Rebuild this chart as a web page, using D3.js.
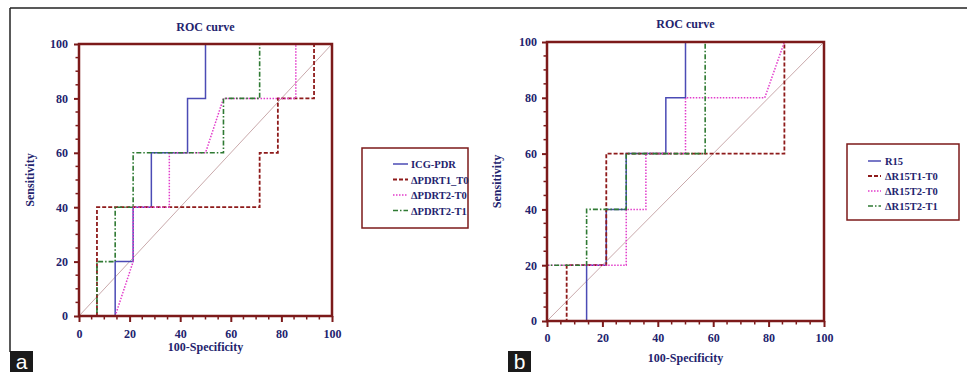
<!DOCTYPE html>
<html>
<head>
<meta charset="utf-8">
<script src="https://cdn.jsdelivr.net/npm/d3@7"></script>
<style>
  body { margin: 0; background: #fff; }
  svg { display: block; font-family: 'Liberation Serif', 'DejaVu Serif', serif; }
  .axis-text { font-size: 12px; font-weight: bold; fill: #23236e; }
  .legend-text { font-size: 10.5px; font-weight: bold; fill: #23236e; }
</style>
</head>
<body>
<div id="chart"></div>
<script>
// x = 100-Specificity, y = Sensitivity
const ticks = [0, 20, 40, 60, 80, 100];

const namesA = ['ICG-PDR', '\u0394PDRT1_T0', '\u0394PDRT2-T0', '\u0394PDRT2-T1'];
const icgX = [0, 14.3, 14.3, 21.4, 21.4, 28.6, 28.6, 42.9, 42.9, 50, 50, 100];
const icgY = [0, 0, 20, 20, 40, 40, 60, 60, 80, 80, 100, 100];
const pdrT1T0X = [0, 7.1, 7.1, 71.4, 71.4, 78.6, 78.6, 92.9, 92.9, 100];
const pdrT1T0Y = [0, 0, 40, 40, 60, 60, 80, 80, 100, 100];
const pdrT2T0X = [0, 14.3, 21.4, 21.4, 35.7, 35.7, 50, 57.1, 85.7, 85.7, 100];
const pdrT2T0Y = [0, 0, 20, 40, 40, 60, 60, 80, 80, 100, 100];
const pdrT2T1X = [0, 7.1, 7.1, 14.3, 14.3, 21.4, 21.4, 57.1, 57.1, 71.4, 71.4, 100];
const pdrT2T1Y = [0, 0, 20, 20, 40, 40, 60, 60, 80, 80, 100, 100];

const namesB = ['R15', '\u0394R15T1-T0', '\u0394R15T2-T0', '\u0394R15T2-T1'];
const r15X = [0, 14.3, 14.3, 21.4, 21.4, 28.6, 28.6, 42.9, 42.9, 50, 50, 100];
const r15Y = [0, 0, 20, 20, 40, 40, 60, 60, 80, 80, 100, 100];
const r15T1T0X = [0, 7.1, 7.1, 21.4, 21.4, 85.7, 85.7, 100];
const r15T1T0Y = [0, 0, 20, 20, 60, 60, 100, 100];
const r15T2T0X = [0, 0, 28.6, 28.6, 35.7, 35.7, 50, 50, 78.6, 85.7, 100];
const r15T2T0Y = [0, 20, 20, 40, 40, 60, 60, 80, 80, 100, 100];
const r15T2T1X = [0, 0, 14.3, 14.3, 28.6, 28.6, 57.1, 57.1, 100];
const r15T2T1Y = [0, 20, 20, 40, 40, 60, 60, 100, 100];

const styles = [
  {color: '#4b4bb5', dash: null, width: 1.5},
  {color: '#8e1b1b', dash: '4,2', width: 1.8},
  {color: '#e23ccb', dash: '1.5,1.5', width: 1.5},
  {color: '#2f7a33', dash: '5,2,1.5,2', width: 1.6}
];

const W = 967, H = 372;
const svg = d3.select('#chart').append('svg')
  .attr('width', W)
  .attr('height', H);

// outer figure frame
svg.append('line').attr('x1', 10).attr('x2', W).attr('y1', 8).attr('y2', 8)
  .attr('stroke', '#222').attr('stroke-width', 1.5);
svg.append('line').attr('x1', 10).attr('x2', 10).attr('y1', 8).attr('y2', 352)
  .attr('stroke', '#222').attr('stroke-width', 1.5);

function panelLabel(x, letter) {
  svg.append('rect').attr('x', x).attr('y', 351).attr('width', 23).attr('height', 21).attr('fill', '#1a1a1a');
  svg.append('text').attr('x', x + 11.5).attr('y', 369).attr('text-anchor', 'middle')
    .attr('font-family', 'Liberation Sans, Arial, sans-serif').attr('font-size', 21)
    .attr('fill', '#fff').text(letter);
}

function drawPanel(cfg) {
  const x = d3.scaleLinear().domain([0, 100]).range([cfg.left, cfg.right]);
  const y = d3.scaleLinear().domain([0, 100]).range([cfg.bottom, cfg.top]);
  const g = svg.append('g');

  // diagonal reference
  g.append('line')
    .attr('x1', x(0)).attr('y1', y(0)).attr('x2', x(100)).attr('y2', y(100))
    .attr('stroke', '#c9a9ab').attr('stroke-width', 1);

  const line = d3.line().x(d => x(d[0])).y(d => y(d[1]));
  cfg.series.forEach((s, i) => {
    const pts = s.x.map((v, j) => [v, s.y[j]]);
    g.append('path')
      .attr('d', line(pts))
      .attr('fill', 'none')
      .attr('stroke', styles[i].color)
      .attr('stroke-width', styles[i].width)
      .attr('stroke-dasharray', styles[i].dash);
  });

  // frame
  g.append('rect')
    .attr('x', x(0)).attr('y', y(100))
    .attr('width', x(100) - x(0)).attr('height', y(0) - y(100))
    .attr('fill', 'none').attr('stroke', '#7c1a1a').attr('stroke-width', 2.5);

  const minor = d3.range(0, 101, 5).filter(v => v % 20 !== 0);

  const xAxis = d3.axisBottom(x).tickValues(ticks).tickSize(6).tickPadding(cfg.xPad).tickFormat(d => d);
  const axX = g.append('g').attr('transform', 'translate(0,' + y(0) + ')').call(xAxis);
  axX.select('path').remove();
  axX.selectAll('g.tick line').attr('stroke', '#7c1a1a').attr('stroke-width', 2);
  axX.selectAll('g.tick text').attr('class', 'axis-text').attr('fill', null);
  axX.selectAll('line.minor').data(minor).enter().append('line')
    .attr('x1', d => x(d)).attr('x2', d => x(d)).attr('y1', 0).attr('y2', 3.5)
    .attr('stroke', '#7c1a1a').attr('stroke-width', 1.5);

  const yAxis = d3.axisLeft(y).tickValues(ticks).tickSize(5).tickPadding(cfg.yPad).tickFormat(d => d);
  const axY = g.append('g').attr('transform', 'translate(' + x(0) + ',0)').call(yAxis);
  axY.select('path').remove();
  axY.selectAll('g.tick line').attr('stroke', '#7c1a1a').attr('stroke-width', 2);
  axY.selectAll('g.tick text').attr('class', 'axis-text').attr('fill', null);
  axY.selectAll('line.minor').data(minor).enter().append('line')
    .attr('y1', d => y(d)).attr('y2', d => y(d)).attr('x1', 0).attr('x2', -3.5)
    .attr('stroke', '#7c1a1a').attr('stroke-width', 1.5);
  g.selectAll('.axis-text').attr('font-family', 'Liberation Serif, serif');

  const cx = (cfg.left + cfg.right) / 2;
  g.append('text').attr('class', 'axis-text').attr('x', cx).attr('y', cfg.titleY)
    .attr('text-anchor', 'middle').text('ROC curve');
  g.append('text').attr('class', 'axis-text').attr('x', cx).attr('y', cfg.xLabelY)
    .attr('text-anchor', 'middle').text('100-Specificity');
  g.append('text').attr('class', 'axis-text')
    .attr('transform', 'translate(' + cfg.yLabelX + ',' + ((cfg.top + cfg.bottom) / 2) + ') rotate(-90)')
    .attr('text-anchor', 'middle').text('Sensitivity');

  // legend
  const lg = svg.append('g').attr('transform', 'translate(' + cfg.legend.x + ',' + cfg.legend.y + ')');
  lg.append('rect').attr('width', cfg.legend.w).attr('height', cfg.legend.h)
    .attr('fill', '#fff').attr('stroke', '#7c1a1a').attr('stroke-width', 1.5);
  cfg.names.forEach((n, i) => {
    const yy = cfg.legend.row0 + i * cfg.legend.step;
    lg.append('line').attr('x1', cfg.legend.sx).attr('x2', cfg.legend.sx + cfg.legend.sw)
      .attr('y1', yy).attr('y2', yy)
      .attr('stroke', styles[i].color).attr('stroke-width', styles[i].width)
      .attr('stroke-dasharray', styles[i].dash);
    lg.append('text').attr('class', 'legend-text').attr('x', cfg.legend.tx).attr('y', yy + 4).text(n);
  });
}

drawPanel({
  left: 79, right: 332, top: 44, bottom: 316,
  xPad: 7, yPad: 6, titleY: 31, xLabelY: 351, yLabelX: 34,
  names: namesA,
  series: [
    {x: icgX, y: icgY}, {x: pdrT1T0X, y: pdrT1T0Y},
    {x: pdrT2T0X, y: pdrT2T0Y}, {x: pdrT2T1X, y: pdrT2T1Y}
  ],
  legend: {x: 362, y: 148, w: 106, h: 80, row0: 16, step: 15.5, sx: 31, sw: 15, tx: 49}
});

drawPanel({
  left: 547, right: 824, top: 42, bottom: 321,
  xPad: 6, yPad: 5, titleY: 28, xLabelY: 362, yLabelX: 501,
  names: namesB,
  series: [
    {x: r15X, y: r15Y}, {x: r15T1T0X, y: r15T1T0Y},
    {x: r15T2T0X, y: r15T2T0Y}, {x: r15T2T1X, y: r15T2T1Y}
  ],
  legend: {x: 847, y: 144, w: 112, h: 76, row0: 17, step: 15, sx: 21, sw: 13, tx: 38}
});

panelLabel(10, 'a');
panelLabel(508, 'b');
</script>
</body>
</html>
